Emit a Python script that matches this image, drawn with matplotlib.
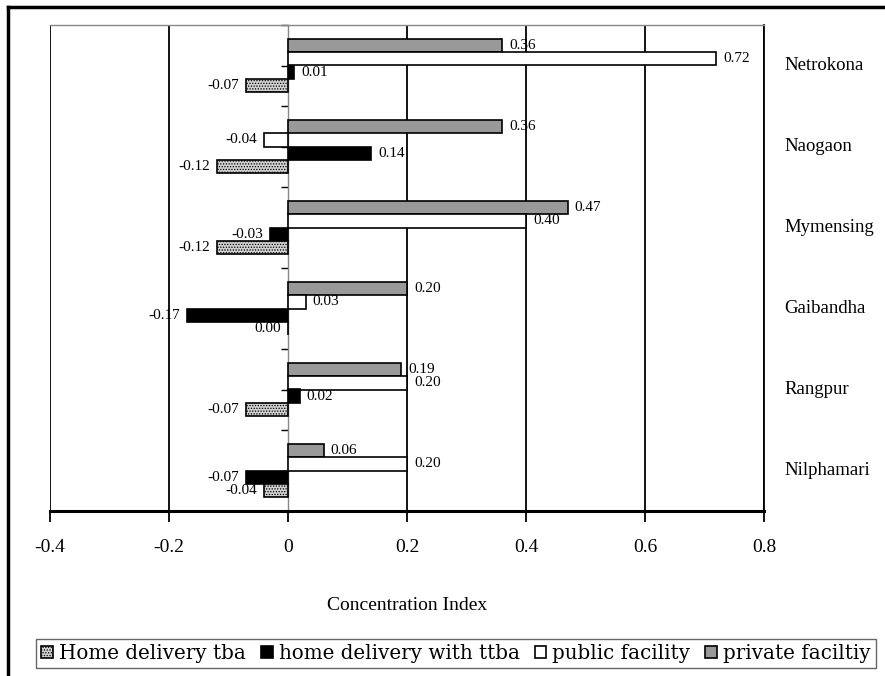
import matplotlib
matplotlib.use('Agg')
import matplotlib.pyplot as plt
from matplotlib.lines import Line2D
import numpy as np

plt.rcParams['font.family'] = ['Liberation Serif', 'DejaVu Serif']
plt.rcParams['hatch.color'] = '#555555'
plt.rcParams['hatch.linewidth'] = 0.6

districts = ['Netrokona', 'Naogaon', 'Mymensing', 'Gaibandha', 'Rangpur', 'Nilphamari']
private = [0.36, 0.36, 0.47, 0.20, 0.19, 0.06]
public = [0.72, -0.04, 0.40, 0.03, 0.20, 0.20]
ttba = [0.01, 0.14, -0.03, -0.17, 0.02, -0.07]
tba = [-0.07, -0.12, -0.12, 0.00, -0.07, -0.04]

series = [
    ('private faciltiy', private, dict(facecolor='#999999', edgecolor='black')),
    ('public facility', public, dict(facecolor='white', edgecolor='black')),
    ('home delivery with ttba', ttba, dict(facecolor='black', edgecolor='black')),
    ('Home delivery tba', tba, dict(facecolor='#d0d0d0', edgecolor='black', hatch='......')),
]

W, H = 885, 676
fig = plt.figure(figsize=(W / 100, H / 100), dpi=100)
ax = fig.add_axes([50 / W, 1 - 511 / H, 714 / W, 486 / H])

pos = np.arange(len(districts))
h = 0.165
bars = {}
for k, (name, vals, style) in enumerate(series):
    offs = pos + (k - 1.5) * h
    b = ax.barh(offs, vals, height=h, linewidth=1.2, zorder=3, **style)
    bars[name] = b
    for y, v in zip(offs, vals):
        if v > 0:
            ax.annotate(f'{v:.2f}', (v, y), xytext=(5, 0), textcoords='offset points',
                        ha='left', va='center', fontsize=11, zorder=4)
        else:
            ax.annotate(f'{v:.2f}', (v, y), xytext=(-5, 0), textcoords='offset points',
                        ha='right', va='center', fontsize=11, zorder=4)

ax.set_xlim(-0.4, 0.8)
ax.set_ylim(len(districts) - 0.5, -0.5)

# vertical gridlines (not at 0, where the category axis sits)
for xv in [-0.4, -0.2, 0.2, 0.4, 0.6, 0.8]:
    ax.axvline(xv, color='black', lw=1.3, zorder=1)

ax.set_xticks(np.arange(-0.4, 0.81, 0.2))
ax.set_xticklabels(['-0.4', '-0.2', '0', '0.2', '0.4', '0.6', '0.8'], fontsize=14)
ax.tick_params(axis='x', direction='out', length=8, width=1.3, pad=12)

ax.spines['left'].set_position(('data', 0))
ax.spines['left'].set_color('#888888')
ax.spines['left'].set_linewidth(1)
ax.set_yticks(np.arange(-0.5, len(districts), 0.5))
ax.set_yticklabels([])
ax.tick_params(axis='y', direction='out', length=5, width=1, color='black')
ax.spines['bottom'].set_linewidth(2.2)
ax.spines['top'].set_color('#888888')
ax.spines['top'].set_linewidth(1)
ax.spines['right'].set_linewidth(1.3)

for y, name in zip(pos, districts):
    ax.text(1.029, y, name, transform=ax.get_yaxis_transform(), ha='left',
            va='center', fontsize=13.5)

ax.set_xlabel('Concentration Index', fontsize=14, labelpad=30)

order = ['Home delivery tba', 'home delivery with ttba', 'public facility', 'private faciltiy']
leg = fig.legend([bars[n] for n in order], order, loc='lower center',
                 bbox_to_anchor=(456 / W, 8 / H), ncol=4,
                 prop={'family': 'DejaVu Serif', 'size': 14.3},
                 handlelength=0.6, handleheight=0.6, handletextpad=0.3,
                 columnspacing=0.75, borderpad=0.25, borderaxespad=0,
                 fancybox=False, edgecolor='#666666', framealpha=1)
leg.get_frame().set_linewidth(1)

# outer frame
fig.add_artist(Line2D([8 / W, 1.0], [1 - 7 / H, 1 - 7 / H], color='black', lw=2.5,
                      transform=fig.transFigure))
fig.add_artist(Line2D([8 / W, 8 / W], [0, 1 - 7 / H], color='black', lw=2.5,
                      transform=fig.transFigure))

fig.savefig('out.png', dpi=100)
